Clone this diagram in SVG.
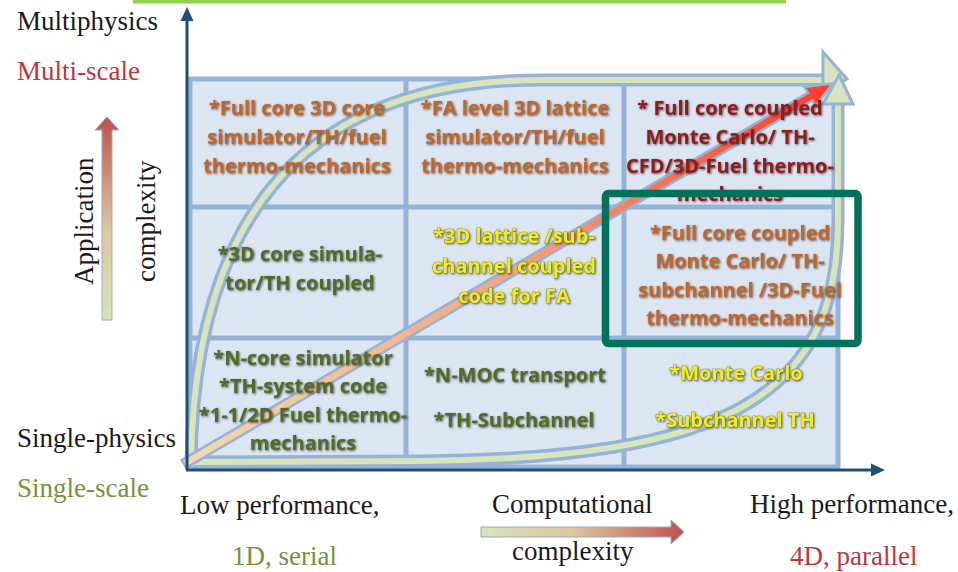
<svg xmlns="http://www.w3.org/2000/svg" width="958" height="572" viewBox="0 0 958 572">
<style>
.lbl{font-family:"Liberation Serif","Times New Roman",serif;font-size:27px;fill:#1a1a1a}
.red{fill:#c0363c}
.grn{fill:#76923c}
.cell{font-family:"Open Sans","Liberation Sans",sans-serif;font-weight:bold;font-size:20px;text-anchor:middle;filter:url(#sh)}
.org{fill:#c0662a}
.drd{fill:#8e1b1f}
.olv{fill:#55692b}
.yel{fill:#eeee22;stroke:#6e6e1a;stroke-width:0.7;paint-order:stroke}
.bandO{fill:none;stroke:#95b3d7;stroke-width:13}
.bandI{fill:none;stroke:#d8e4bc;stroke-width:6}
.grid{stroke:#95b3d7;stroke-width:5}
.axis{stroke:#1f4e79;stroke-width:3}
</style>
<defs>
<filter id="sh" x="-10%" y="-30%" width="120%" height="160%">
<feDropShadow dx="0.9" dy="0.9" stdDeviation="0.8" flood-color="#2a2a2a" flood-opacity="0.75"/>
</filter>
<linearGradient id="gRed" x1="0" y1="0" x2="752" y2="0" gradientUnits="userSpaceOnUse">
<stop offset="0" stop-color="#f4d9b0"/>
<stop offset="0.5" stop-color="#f6a67c"/>
<stop offset="1" stop-color="#ff3a2a"/>
</linearGradient>
<linearGradient id="gH" x1="0" y1="0" x2="1" y2="0">
<stop offset="0" stop-color="#d7e4bd"/>
<stop offset="0.45" stop-color="#dcc7a0"/>
<stop offset="1" stop-color="#c0504d"/>
</linearGradient>
<linearGradient id="gV" x1="0" y1="1" x2="0" y2="0">
<stop offset="0" stop-color="#d7e4bd"/>
<stop offset="0.45" stop-color="#dcc7a0"/>
<stop offset="1" stop-color="#c0504d"/>
</linearGradient>
</defs>

<rect x="133" y="0" width="653" height="3.5" fill="#92d050"/>

<g id="grid">
<rect x="190" y="79" width="648" height="388" fill="#dce6f2" class="grid"/>
<line x1="406" y1="79" x2="406" y2="467" class="grid"/>
<line x1="624" y1="79" x2="624" y2="467" class="grid"/>
<line x1="190" y1="207" x2="838" y2="207" class="grid"/>
<line x1="190" y1="338" x2="838" y2="338" class="grid"/>
</g>

<g id="connectors">
<path class="bandO" d="M191,466 C193,235 290,80 540,80 L824,80"/>
<path class="bandO" d="M193,462 L420,461 C722,458 838,400 838,220 L838,100"/>
<path class="bandI" d="M191,466 C193,235 290,80 540,80 L824,80"/>
<path class="bandI" d="M193,462 L420,461 C722,458 838,400 838,220 L838,100"/>
<polygon points="823,52 847,79 823,94" fill="#d8e4bc" stroke="#95b3d7" stroke-width="3"/>
<polygon points="823,104 839,75 853,104" fill="#d8e4bc" stroke="#95b3d7" stroke-width="3"/>
<g transform="translate(184,464) rotate(-30.4)">
<polygon points="0,-4.5 726,-4.5 726,-11 752,0 726,11 726,4.5 0,4.5" fill="url(#gRed)" stroke="#95b3d7" stroke-width="2.5"/>
</g>
<line x1="187" y1="470" x2="187" y2="19" class="axis"/>
<polygon points="187,7 180.5,21 193.5,21" fill="#1f4e79"/>
<line x1="186" y1="470" x2="872" y2="470" class="axis"/>
<polygon points="885,470 871,463.5 871,476.5" fill="#1f4e79"/>
<polygon points="481,527 671,527 671,520 684,532 671,544 671,537 481,537" fill="url(#gH)" stroke="#9aaabb" stroke-width="1"/>
<polygon points="102,320 102,130 95,130 107,117 119,130 112,130 112,320" fill="url(#gV)" stroke="#9aaabb" stroke-width="1"/>
</g>

<g id="labels">
<text class="lbl" x="17" y="30">Multiphysics</text>
<text class="lbl red" x="17" y="80">Multi-scale</text>
<text class="lbl" x="17" y="447">Single-physics</text>
<text class="lbl grn" x="17" y="497">Single-scale</text>
<text class="lbl" x="180" y="514">Low performance,</text>
<text class="lbl grn" x="232" y="565">1D, serial</text>
<text class="lbl" x="492" y="513">Computational</text>
<text class="lbl" x="512" y="560">complexity</text>
<text class="lbl" x="750" y="513">High performance,</text>
<text class="lbl red" x="790" y="565">4D, parallel</text>
<text class="lbl" transform="translate(93,285) rotate(-90)">Application</text>
<text class="lbl" transform="translate(155,282) rotate(-90)">complexity</text>
</g>

<g id="cell-r1c1">
<text class="cell org" x="297" y="115">*Full core 3D core</text>
<text class="cell org" x="297" y="144">simulator/TH/fuel</text>
<text class="cell org" x="297" y="173">thermo-mechanics</text>
</g>
<g id="cell-r1c2">
<text class="cell org" x="515" y="115">*FA level 3D lattice</text>
<text class="cell org" x="515" y="144">simulator/TH/fuel</text>
<text class="cell org" x="515" y="173">thermo-mechanics</text>
</g>
<g id="cell-r1c3">
<text class="cell drd" x="730" y="115">* Full core coupled</text>
<text class="cell drd" x="730" y="144">Monte Carlo/ TH-</text>
<text class="cell drd" x="730" y="173">CFD/3D-Fuel thermo-</text>
<text class="cell drd" x="730" y="201">mechanics</text>
</g>
<g id="cell-r2c1">
<text class="cell olv" x="300" y="261">*3D core simula-</text>
<text class="cell olv" x="300" y="290">tor/TH coupled</text>
</g>
<g id="cell-r2c2">
<text class="cell yel" x="514" y="243">*3D lattice /sub-</text>
<text class="cell yel" x="514" y="273">channel coupled</text>
<text class="cell yel" x="514" y="303">code for FA</text>
</g>
<g id="cell-r2c3">
<text class="cell org" x="740" y="240">*Full core coupled</text>
<text class="cell org" x="740" y="268">Monte Carlo/ TH-</text>
<text class="cell org" x="740" y="297">subchannel /3D-Fuel</text>
<text class="cell org" x="740" y="325">thermo-mechanics</text>
</g>
<g id="cell-r3c1">
<text class="cell olv" x="303" y="365">*N-core simulator</text>
<text class="cell olv" x="303" y="393">*TH-system code</text>
<text class="cell olv" x="303" y="422">*1-1/2D Fuel thermo-</text>
<text class="cell olv" x="303" y="450">mechanics</text>
</g>
<g id="cell-r3c2">
<text class="cell olv" x="515" y="382">*N-MOC transport</text>
<text class="cell olv" x="514" y="427">*TH-Subchannel</text>
</g>
<g id="cell-r3c3">
<text class="cell yel" x="736" y="380">*Monte Carlo</text>
<text class="cell yel" x="735" y="427">*Subchannel TH</text>
</g>

<g id="highlight">
<rect x="605.5" y="193.5" width="252.5" height="150" rx="3" fill="none" stroke="#00715a" stroke-width="7.5"/>
</g>
</svg>
